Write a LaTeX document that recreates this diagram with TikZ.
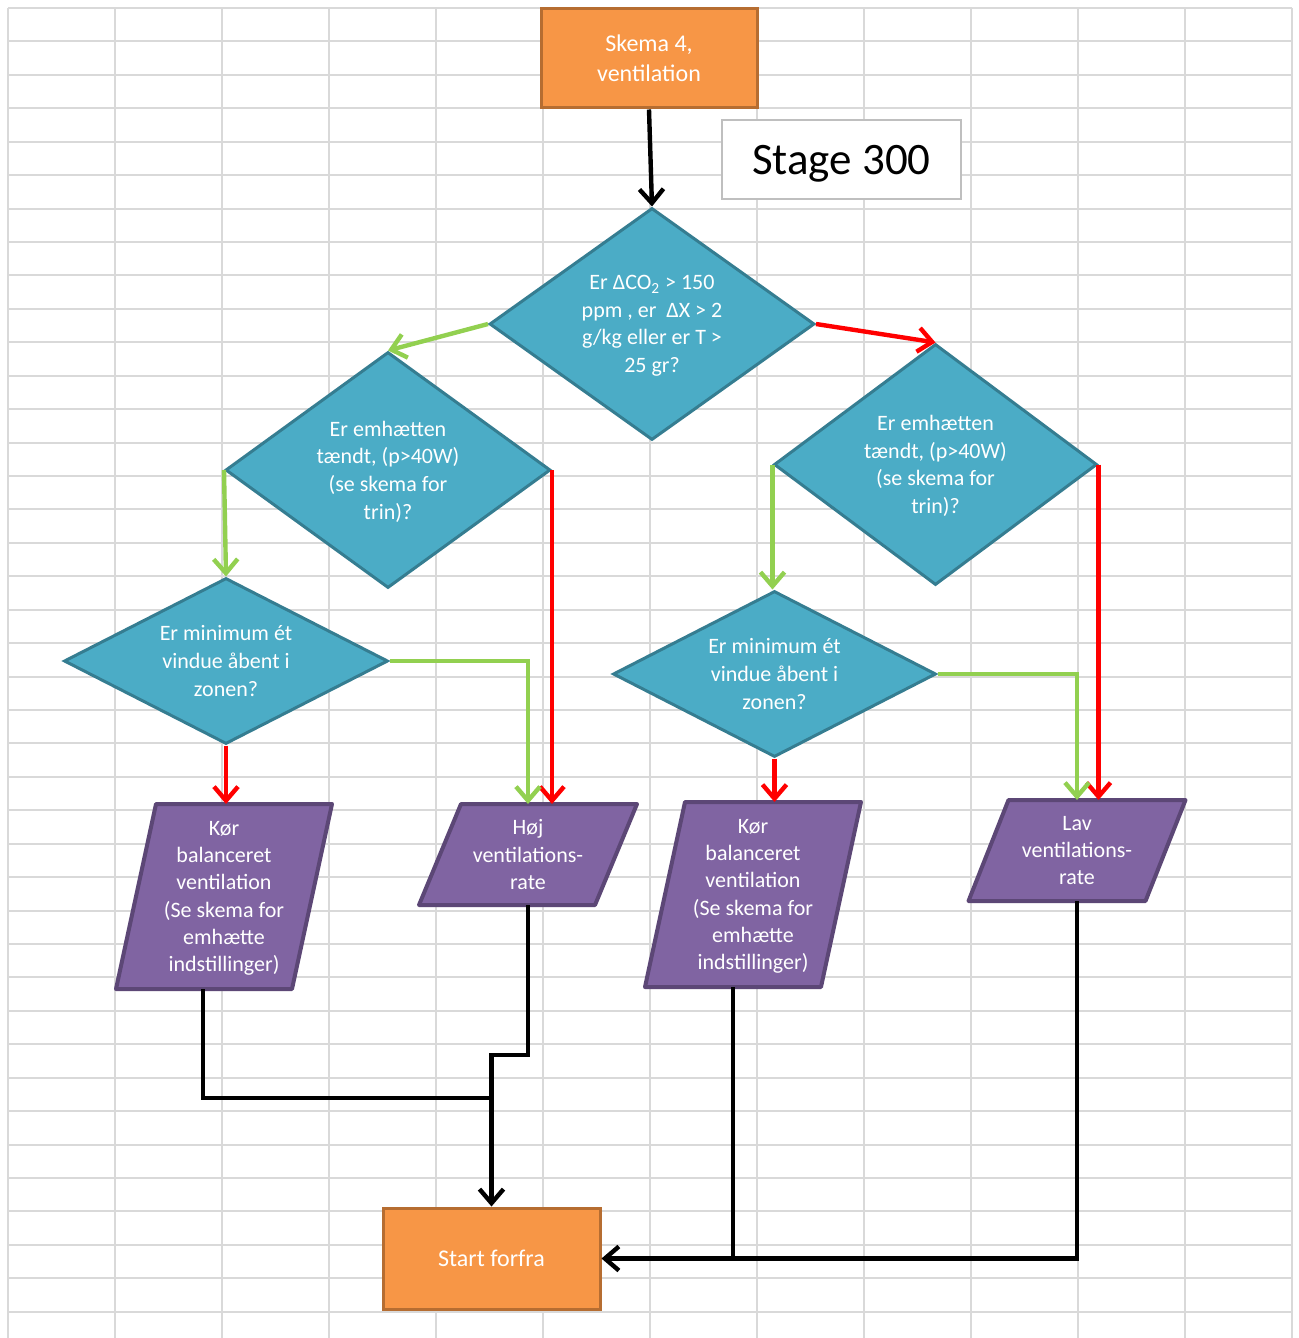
\documentclass[tikz,border=0pt]{standalone}
\usepackage{fontspec}
\setmainfont{Carlito}
\usetikzlibrary{shapes.geometric,arrows.meta}
\pgfdeclarelayer{bg}
\pgfsetlayers{bg,main}

\definecolor{gridgray}{HTML}{D9D9D9}
\definecolor{boxorange}{HTML}{F79646}
\definecolor{boxorangeline}{HTML}{B66D31}
\definecolor{decfill}{HTML}{4BACC6}
\definecolor{decline}{HTML}{357D91}
\definecolor{iofill}{HTML}{8064A2}
\definecolor{ioline}{HTML}{5C4776}
\definecolor{yesgreen}{HTML}{92D050}
\definecolor{nored}{HTML}{FF0000}
\definecolor{labelline}{HTML}{BFBFBF}

\tikzset{
  gridline/.style={draw=gridgray, line width=1pt},
  terminal/.style={rectangle, draw=boxorangeline, fill=boxorange, line width=1.5pt,
    text=white, font=\fontsize{12}{15}\selectfont, align=center, inner sep=0pt},
  decision/.style={diamond, draw=decline, fill=decfill, line width=1.5pt,
    text=white, font=\fontsize{11}{13.8}\selectfont, align=center, inner sep=0pt,
    text depth=0pt},
  iobox/.style={rectangle, inner sep=0pt, outer sep=0pt, text=white,
    font=\fontsize{11}{13.6}\selectfont, align=center, text depth=0pt},
  ioshape/.style={draw=ioline, fill=iofill, line width=2pt, line join=round},
  tip/.style={-{Straight Barb[length=7pt,width=12pt]}},
  yes/.style={line width=2.2pt, draw=yesgreen, tip},
  no/.style={line width=2.2pt, draw=nored, tip},
  back/.style={line width=2.2pt, draw=black},
}

% parallelogram drawn around a rectangular text node: #1 node, #2 half slant
\newcommand\ioframe[2]{%
  \path[ioshape] ([xshift=-#2]#1.south west) -- ([xshift=-#2]#1.south east)
    -- ([xshift=#2]#1.north east) -- ([xshift=#2]#1.north west) -- cycle;}

\begin{document}
\begin{tikzpicture}[x=0.5pt, y=-0.5pt]
\useasboundingbox (0,0) rectangle (1298,1338);

% spreadsheet grid
\begin{pgfonlayer}{bg}
  \fill[white] (0,0) rectangle (1298,1338);
  \foreach \i in {0,...,12} \draw[gridline] (8+107*\i,8) -- (8+107*\i,1338);
  \foreach \j in {0,...,39} \draw[gridline] (8,8+33.43*\j) -- (1292,8+33.43*\j);
\end{pgfonlayer}

% start and end boxes
\node[terminal, minimum width=108pt, minimum height=49.5pt] (top) at (649,58.5)
  {Skema 4,\\ventilation};
\node[terminal, minimum width=108.5pt, minimum height=50.5pt] (start) at (491.5,1258.5)
  {Start forfra};

% stage label
\node[draw=labelline, line width=0.75pt, fill=white, minimum width=119.5pt,
  minimum height=39.5pt, inner sep=0pt, text depth=0pt,
  font=\fontsize{22.5}{26}\selectfont] (stage) at (841.5,159.5) {Stage 300};

% decisions
\node[decision, aspect=1.4, minimum width=162.5pt, minimum height=116pt] (d0) at (652,324)
  {Er ΔCO\textsubscript{2} > 150\\ppm , er\ \ ΔX > 2\\g/kg eller er T >\\25 gr?};
\node[decision, aspect=1.4, minimum width=162.5pt, minimum height=118pt] (d1) at (388,470)
  {Er emhætten\\tændt, (p>40W)\\(se skema for\\trin)?};
\node[decision, aspect=1.4, minimum width=161.5pt, minimum height=120.5pt] (d2) at (935.5,464.5)
  {Er emhætten\\tændt, (p>40W)\\(se skema for\\trin)?};
\node[decision, aspect=2, minimum width=162pt, minimum height=83pt] (d3) at (226,661)
  {Er minimum ét\\vindue åbent i\\zonen?};
\node[decision, aspect=2, minimum width=161.5pt, minimum height=83pt] (d4) at (774.5,674)
  {Er minimum ét\\vindue åbent i\\zonen?};

% actions
\node[iobox, minimum width=88pt, minimum height=92.5pt] (p1) at (224,896.5)
  {Kør\\balanceret\\ventilation\\(Se skema for\\emhætte\\indstillinger)};
\node[iobox, minimum width=88pt, minimum height=50.5pt] (p2) at (528,854.5)
  {Høj\\ventilations-\\rate};
\node[iobox, minimum width=88pt, minimum height=92.5pt] (p3) at (753,894.5)
  {Kør\\balanceret\\ventilation\\(Se skema for\\emhætte\\indstillinger)};
\node[iobox, minimum width=88.5pt, minimum height=50.5pt] (p4) at (1077,850.5)
  {Lav\\ventilations-\\rate};

\begin{pgfonlayer}{bg}
  \ioframe{p1}{10pt}
  \ioframe{p2}{10.5pt}
  \ioframe{p3}{10pt}
  \ioframe{p4}{10pt}
\end{pgfonlayer}

% flow
\draw[back, tip] (top.south) -- (d0.north);
\draw[yes] (d0.west) -- (d1.north);
\draw[no] (d0.east) -- (d2.north);
\draw[yes] (d1.west) -- (d3.north);
\draw[no] (d1.east) -- (d1.east |- p2.north);
\draw[yes] (d2.west) -- (d2.west |- d4.north);
\draw[no] (d2.east) -- (d2.east |- p4.north);
\draw[yes] (d3.east) -| (p2.north);
\draw[no] (d3.south) -- (d3.south |- p1.north);
\draw[no] (d4.south) -- (d4.south |- p3.north);
\draw[yes] (d4.east) -| (p4.north);

% return paths
\coordinate (j1) at (start.north |- 0,1098);
\coordinate (j2) at (start.north |- 0,1055);
\draw[back] ([xshift=-10.5pt]p1.south) |- (j1);
\draw[back, tip] (p2.south) |- (j2) -- (start.north);
\draw[back] ([xshift=-10pt]p3.south) -- ([xshift=-10pt]p3.south |- start.east);
\draw[back, tip] (p4.south) |- (start.east);
\end{tikzpicture}
\end{document}
